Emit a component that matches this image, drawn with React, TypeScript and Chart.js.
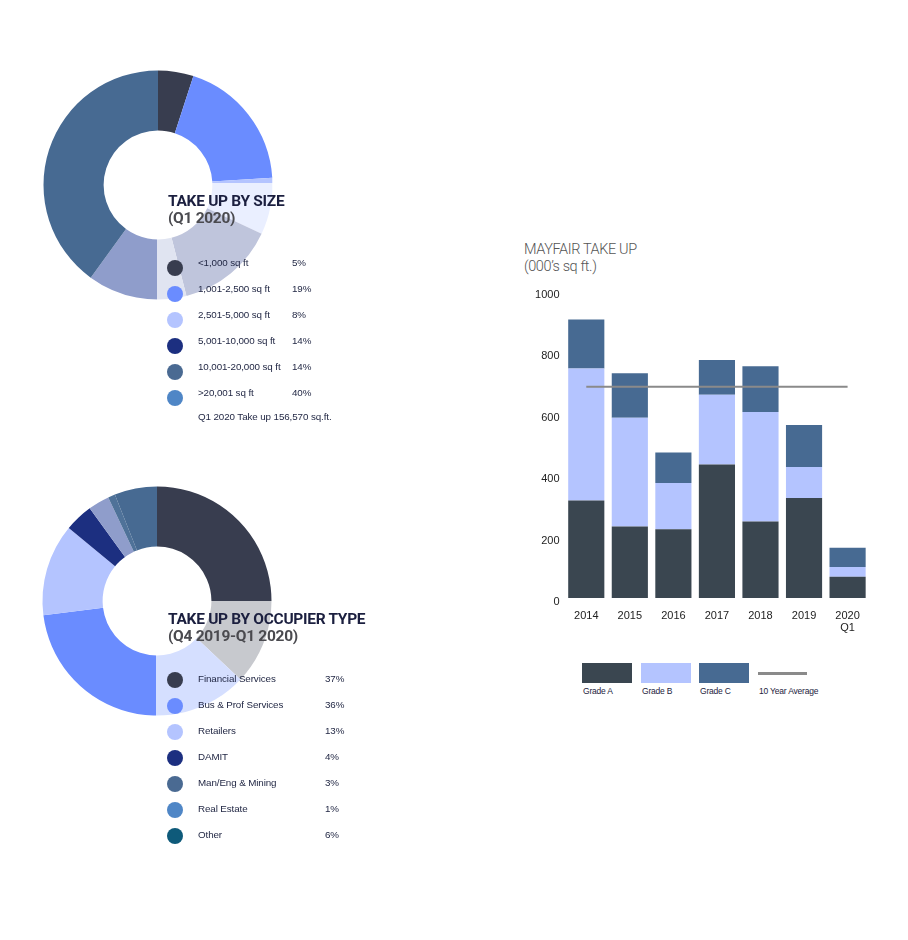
import { useRef, useEffect } from "react"
import { Chart, type ChartConfiguration, registerables } from "chart.js"

Chart.register(...registerables)

// take up by size (Q1 2020)
const sizeLabels = ["<1,000 sq ft", "1,001-2,500 sq ft", "2,501-5,000 sq ft", "5,001-10,000 sq ft", "10,001-20,000 sq ft", ">20,001 sq ft"]
const sizeShares = [5, 19, 8, 14, 14, 40]
const sizeSliceColors = ["#383d4f", "#6a8cff", "#b4c4ff", "#1c2f80", "#8f9dcb", "#476a92"]
const sizeDotColors = ["#383d4f", "#6a8cff", "#b4c4ff", "#1c2f80", "#4a6a92", "#4f86c6"]

// take up by occupier type (Q4 2019-Q1 2020)
const occLabels = ["Financial Services", "Bus & Prof Services", "Retailers", "DAMIT", "Man/Eng & Mining", "Real Estate", "Other"]
const occShares = [37, 36, 13, 4, 3, 1, 6]
const occSliceColors = ["#383d4f", "#6a8cff", "#b4c4ff", "#1c2f80", "#8f9dcb", "#4f7299", "#476a92"]
const occDotColors = ["#383d4f", "#6a8cff", "#b4c4ff", "#1c2f80", "#4a6a92", "#4f86c6", "#0e5a7a"]

// mayfair take up (000's sq ft)
const years = [["2014"], ["2015"], ["2016"], ["2017"], ["2018"], ["2019"], ["2020", "Q1"]]
const gradeA = [318, 233, 224, 435, 249, 326, 69]
const gradeB = [430, 354, 151, 227, 357, 101, 32]
const gradeC = [159, 145, 99, 113, 149, 137, 63]
const tenYearAverage = [688, 688, 688, 688, 688, 688, 688]
const yTicks = [0, 200, 400, 600, 800, 1000]
const gradeLabels = ["Grade A", "Grade B", "Grade C", "10 Year Average"]
const gradeColors = ["#3a4650", "#b4c4ff", "#476a92", "#8a8a8a"]

const FONT = "'Liberation Sans', Arial, sans-serif"
const TITLE_FONT = "Roboto, 'Liberation Sans', Arial, sans-serif"

function Donut({ data, colors, left, top }: { data: number[]; colors: string[]; left: number; top: number }) {
  const canvasRef = useRef<HTMLCanvasElement>(null)

  useEffect(() => {
    if (!canvasRef.current) return
    const config: ChartConfiguration = {
      type: "doughnut",
      data: {
        datasets: [{ data, backgroundColor: colors, borderWidth: 0, hoverOffset: 0 }],
      },
      options: {
        responsive: true,
        maintainAspectRatio: false,
        animation: false,
        radius: 114.5,
        cutout: 57,
        plugins: { legend: { display: false }, tooltip: { enabled: false } },
      } as any,
    }
    const chart = new Chart(canvasRef.current, config)
    return () => chart.destroy()
  }, [data, colors])

  return (
    <div style={{ position: "absolute", left, top, width: 240, height: 240 }}>
      <canvas ref={canvasRef} />
    </div>
  )
}

function DonutKey({ title, sub, labels, values, dots, top, rowsTop, textShift, pctX, footer }: {
  title: string; sub: string; labels: string[]; values: number[]; dots: string[]; top: number; rowsTop: number; textShift: number; pctX: number; footer?: string
}) {
  const text = { position: "absolute" as const, top: textShift, fontSize: 9.8, lineHeight: "12px", color: "#1d2340", whiteSpace: "nowrap" as const, letterSpacing: -0.1 }
  return (
    <>
      <div style={{ position: "absolute", left: 168, top, fontFamily: TITLE_FONT, fontSize: 15.5, fontWeight: 700, color: "#1b1f3f", letterSpacing: -0.3, lineHeight: "17px", whiteSpace: "nowrap" }}>
        {title}
        <div style={{ color: "#4a4a4f" }}>{sub}</div>
      </div>
      {labels.map((l, i) => (
        <div key={l} style={{ position: "absolute", left: 0, top: rowsTop + i * 26, height: 16, width: 400 }}>
          <div style={{ position: "absolute", left: 167, top: 0, width: 16, height: 16, borderRadius: 8, background: dots[i] }} />
          <div style={{ ...text, left: 198 }}>{l}</div>
          <div style={{ ...text, left: pctX }}>{values[i]}%</div>
        </div>
      ))}
      {footer && (
        <div style={{ ...text, left: 198, top: rowsTop + labels.length * 26 + textShift - 2 }}>{footer}</div>
      )}
    </>
  )
}

function TakeUpBars() {
  const canvasRef = useRef<HTMLCanvasElement>(null)

  useEffect(() => {
    if (!canvasRef.current) return
    const tickFont = { family: FONT, size: 11, lineHeight: 1.1 }
    const config: ChartConfiguration = {
      type: "bar",
      data: {
        labels: years as any,
        datasets: [
          { type: "line", label: gradeLabels[3], data: tenYearAverage, borderColor: gradeColors[3], borderWidth: 2, pointRadius: 0, order: 0 } as any,
          { label: gradeLabels[0], data: gradeA, backgroundColor: gradeColors[0], order: 1 },
          { label: gradeLabels[1], data: gradeB, backgroundColor: gradeColors[1], order: 1 },
          { label: gradeLabels[2], data: gradeC, backgroundColor: gradeColors[2], order: 1 },
        ],
      },
      options: {
        responsive: true,
        maintainAspectRatio: false,
        animation: false,
        layout: { padding: { top: 9.5, right: 2.5, left: 0, bottom: 0 } },
        datasets: { bar: { barPercentage: 0.83, categoryPercentage: 1 } },
        plugins: { legend: { display: false }, tooltip: { enabled: false } },
        scales: {
          x: {
            stacked: true,
            grid: { display: false, drawTicks: false },
            border: { display: false },
            ticks: { font: tickFont, color: "#222", padding: 12, maxRotation: 0 },
            afterFit: (s: any) => { s.height = 42 },
          },
          y: {
            stacked: true,
            min: 0,
            max: 1000,
            grid: { display: false, drawTicks: false },
            border: { display: false },
            afterBuildTicks: (s: any) => { s.ticks = yTicks.map((v) => ({ value: v })) },
            ticks: { font: tickFont, color: "#222", padding: 5, labelOffset: 4, callback: (v: any) => String(v) },
            afterFit: (s: any) => { s.width = 44.5 },
          },
        },
      } as any,
    }
    const chart = new Chart(canvasRef.current, config)
    return () => chart.destroy()
  }, [])

  return (
    <div style={{ position: "absolute", left: 520, top: 280, width: 352, height: 360 }}>
      <canvas ref={canvasRef} />
    </div>
  )
}

export default function App() {
  const keyX = [582, 641, 699, 758]
  return (
    <div style={{ position: "absolute", left: 0, top: 0, width: 908, height: 940, background: "#fff", fontFamily: FONT, overflow: "hidden" }}>
      <Donut data={sizeShares} colors={sizeSliceColors} left={37.7} top={64.7} />
      <div style={{ position: "absolute", left: 157, top: 183, width: 140, height: 130, background: "rgba(255,255,255,0.72)" }} />
      <DonutKey title="TAKE UP BY SIZE" sub="(Q1 2020)" labels={sizeLabels} values={sizeShares} dots={sizeDotColors} top={193} rowsTop={260} textShift={-3} pctX={292} footer="Q1 2020 Take up 156,570 sq.ft." />

      <Donut data={occShares} colors={occSliceColors} left={36.7} top={481} />
      <div style={{ position: "absolute", left: 156, top: 601, width: 140, height: 130, background: "rgba(255,255,255,0.72)" }} />
      <DonutKey title="TAKE UP BY OCCUPIER TYPE" sub="(Q4 2019-Q1 2020)" labels={occLabels} values={occShares} dots={occDotColors} top={611} rowsTop={672} textShift={1} pctX={325} />

      <div style={{ position: "absolute", left: 524, top: 241, fontFamily: TITLE_FONT, fontWeight: 300, fontSize: 14.5, color: "#555", letterSpacing: -0.4, lineHeight: "17px", whiteSpace: "nowrap" }}>
        MAYFAIR TAKE UP
        <div>(000’s sq ft.)</div>
      </div>
      <TakeUpBars />
      {gradeLabels.map((l, i) => (
        <div key={l}>
          {i < 3 ? (
            <div style={{ position: "absolute", left: keyX[i], top: 663, width: 50, height: 20, background: gradeColors[i] }} />
          ) : (
            <div style={{ position: "absolute", left: keyX[i], top: 671.5, width: 49, height: 3, background: gradeColors[i] }} />
          )}
          <div style={{ position: "absolute", left: keyX[i] + 1, top: 686, fontSize: 8.5, color: "#1d2340", whiteSpace: "nowrap", letterSpacing: -0.2 }}>{l}</div>
        </div>
      ))}
    </div>
  )
}
